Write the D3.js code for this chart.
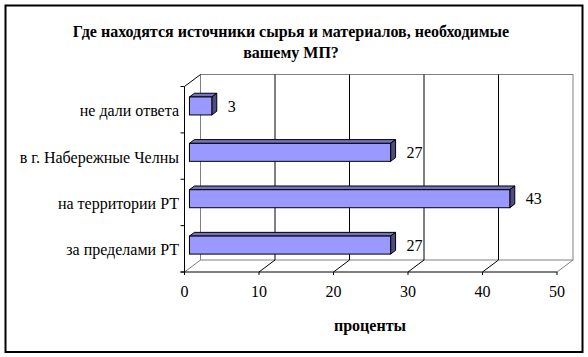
<!DOCTYPE html>
<html><head><meta charset="utf-8">
<script src="https://cdn.jsdelivr.net/npm/d3@7"></script>
<style>body{margin:0;background:#fff}svg{display:block}</style>
</head><body>
<script>
const categories = ["не дали ответа", "в г. Набережные Челны", "на территории РТ", "за пределами РТ"];
const values = [3, 27, 43, 27];
const ticks = [0, 10, 20, 30, 40, 50];
const titleLines = ["Где находятся источники сырья и материалов, необходимые", "вашему МП?"];
const axisTitle = "проценты";

const W = 588, H = 357;
const FONT = "'Liberation Serif', 'Times New Roman', 'DejaVu Serif', serif";
const svg = d3.select("body").append("svg").attr("width", W).attr("height", H)
  .style("font-family", FONT);
svg.append("rect").attr("x", 5.5).attr("y", 5.5).attr("width", 577).attr("height", 346.5)
  .attr("fill", "#fff").attr("stroke", "#000").attr("stroke-width", 2);

const x = d3.scaleLinear().domain([0, 50]).range([184.5, 557]);
const y = d3.scaleBand().domain(categories).range([86.5, 272]);
const DX = 16, DY = -12; // depth vector
const gray = "#808080";
const top0 = y.range()[0], bot0 = y.range()[1];

const g = svg.append("g");
g.append("rect").attr("x", x(0) + DX).attr("y", top0 + DY).attr("width", x(50) - x(0)).attr("height", bot0 - top0)
  .attr("fill", "none").attr("stroke", gray);
ticks.slice(1, -1).forEach(t => {
  g.append("line").attr("x1", x(t) + DX).attr("x2", x(t) + DX).attr("y1", top0 + DY).attr("y2", bot0 + DY)
    .attr("stroke", "#000");
  g.append("line").attr("x1", x(t) + DX).attr("x2", x(t)).attr("y1", bot0 + DY).attr("y2", bot0)
    .attr("stroke", "#000");
});
[0, 50].forEach(t => g.append("line").attr("x1", x(t) + DX).attr("x2", x(t)).attr("y1", bot0 + DY).attr("y2", bot0)
  .attr("stroke", gray));
g.append("line").attr("x1", x(0)).attr("x2", x(0) + DX).attr("y1", top0).attr("y2", top0 + DY).attr("stroke", "#000");

g.append("line").attr("x1", x(0)).attr("x2", x(0)).attr("y1", top0).attr("y2", bot0 + 3).attr("stroke", "#000");
g.append("line").attr("x1", x(0) - 4).attr("x2", x(50)).attr("y1", bot0).attr("y2", bot0).attr("stroke", "#000");
d3.range(categories.length + 1).forEach(i => {
  const yy = top0 + i * y.step();
  g.append("line").attr("x1", x(0) - 4).attr("x2", x(0)).attr("y1", yy).attr("y2", yy).attr("stroke", "#000");
});
ticks.forEach(t => g.append("line").attr("x1", x(t)).attr("x2", x(t)).attr("y1", bot0).attr("y2", bot0 + 3).attr("stroke", "#000"));

const f1 = 0.31, f2 = 0.62;
const bh = 18;
categories.forEach((c, i) => {
  const v = values[i];
  const cy = y(c) + y.bandwidth() / 2 + DY * f1;
  const x0 = x(0) + DX * f1, x1 = x(v) + DX * f1;
  const y0 = cy - bh / 2, y1 = cy + bh / 2;
  const ddx = DX * (f2 - f1), ddy = DY * (f2 - f1);
  g.append("path").attr("d", `M${x0},${y0}L${x0 + ddx},${y0 + ddy}L${x1 + ddx},${y0 + ddy}L${x1},${y0}Z`)
    .attr("fill", "#7373BF").attr("stroke", "#000").attr("stroke-width", 1);
  g.append("path").attr("d", `M${x1},${y0}L${x1 + ddx},${y0 + ddy}L${x1 + ddx},${y1 + ddy}L${x1},${y1}Z`)
    .attr("fill", "#4D4D80").attr("stroke", "#000").attr("stroke-width", 1);
  g.append("rect").attr("x", x0).attr("y", y0).attr("width", x1 - x0).attr("height", bh)
    .attr("fill", "#9999FF").attr("stroke", "#000").attr("stroke-width", 1);
  g.append("text").attr("x", x1 + 16).attr("y", cy).attr("dy", "0.35em").attr("font-size", 16).text(v);
  g.append("text").attr("x", 179).attr("y", y(c) + y.bandwidth() / 2 + 1).attr("dy", "0.35em")
    .attr("text-anchor", "end").attr("font-size", 16).text(c);
});

ticks.forEach(t => g.append("text").attr("x", x(t)).attr("y", 291).attr("dy", "0.35em")
  .attr("text-anchor", "middle").attr("font-size", 16).text(t));

titleLines.forEach((l, i) => svg.append("text").attr("x", 291).attr("y", 37 + i * 21)
  .attr("text-anchor", "middle").attr("font-size", 16).attr("font-weight", "bold").text(l));
svg.append("text").attr("x", 370).attr("y", 325).attr("dy", "0.35em").attr("text-anchor", "middle")
  .attr("font-size", 16).attr("font-weight", "bold").text(axisTitle);
</script>
</body></html>
